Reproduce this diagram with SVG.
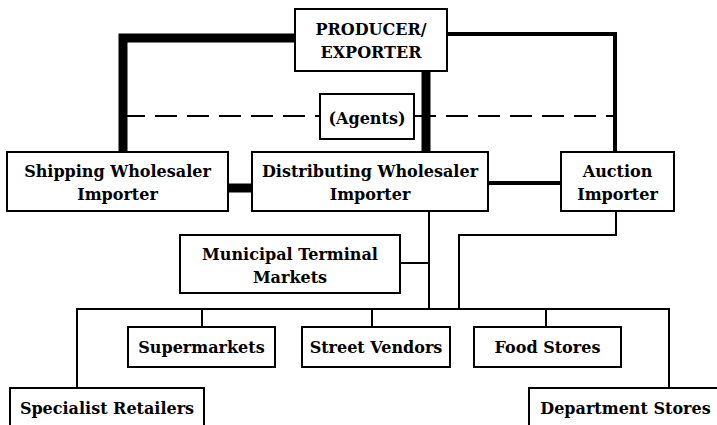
<svg xmlns="http://www.w3.org/2000/svg" width="717" height="425" viewBox="0 0 717 425">
<style>
.box{fill:#fff;stroke:#000;stroke-width:2}
text{font-family:'DejaVu Serif',serif;font-weight:bold;font-size:16px;text-anchor:middle;fill:#000}
.thick{stroke:#000;stroke-width:9;fill:none}
.med{stroke:#000;stroke-width:4;fill:none}
.thin{stroke:#000;stroke-width:2;fill:none}
.dash{stroke:#000;stroke-width:2;fill:none;stroke-dasharray:22,10}
</style>
<rect width="717" height="425" fill="#fff"/>
<g id="connectors">
<polyline class="thick" points="295,38 123,38 123,152"/>
<line class="thick" x1="426" y1="71" x2="426" y2="152"/>
<polyline class="med" points="447,34 615,34 615,152"/>
<line class="dash" x1="123" y1="116" x2="320" y2="116"/>
<line class="dash" x1="414" y1="116" x2="615" y2="116"/>
<line class="thick" x1="228" y1="188" x2="252" y2="188"/>
<line class="med" x1="488" y1="183" x2="561" y2="183"/>
<line class="thin" x1="429" y1="211" x2="429" y2="309"/>
<polyline class="thin" points="616,211 616,235 459,235 459,309"/>
<line class="thin" x1="400" y1="263" x2="429" y2="263"/>
<polyline class="thin" points="77,388 77,309 669,309 669,388"/>
<line class="thin" x1="202" y1="309" x2="202" y2="327"/>
<line class="thin" x1="372" y1="309" x2="372" y2="327"/>
<line class="thin" x1="546" y1="309" x2="546" y2="327"/>
</g>
<g id="producer"><rect class="box" x="295" y="9" width="152" height="62"/><text x="371" y="35">PRODUCER/</text><text x="371" y="58">EXPORTER</text></g>
<g id="agents"><rect class="box" x="320" y="94" width="94" height="45"/><text x="367" y="124">(Agents)</text></g>
<g id="shipping"><rect class="box" x="7" y="152" width="221" height="59"/><text x="117.5" y="177">Shipping Wholesaler</text><text x="117.5" y="200">Importer</text></g>
<g id="distributing"><rect class="box" x="252" y="152" width="236" height="59"/><text x="370" y="177">Distributing Wholesaler</text><text x="370" y="200">Importer</text></g>
<g id="auction"><rect class="box" x="561" y="152" width="113" height="59"/><text x="617.5" y="177">Auction</text><text x="617.5" y="200">Importer</text></g>
<g id="municipal"><rect class="box" x="180" y="235" width="220" height="58"/><text x="290" y="260">Municipal Terminal</text><text x="290" y="283">Markets</text></g>
<g id="supermarkets"><rect class="box" x="128" y="327" width="147" height="40"/><text x="201.5" y="353">Supermarkets</text></g>
<g id="street"><rect class="box" x="302" y="327" width="148" height="40"/><text x="376" y="353">Street Vendors</text></g>
<g id="food"><rect class="box" x="474" y="327" width="147" height="40"/><text x="547.5" y="353">Food Stores</text></g>
<g id="specialist"><rect class="box" x="10" y="388" width="194" height="60"/><text x="107" y="414">Specialist Retailers</text></g>
<g id="department"><rect class="box" x="529" y="388" width="200" height="60"/><text x="625.5" y="414">Department Stores</text></g>
</svg>
